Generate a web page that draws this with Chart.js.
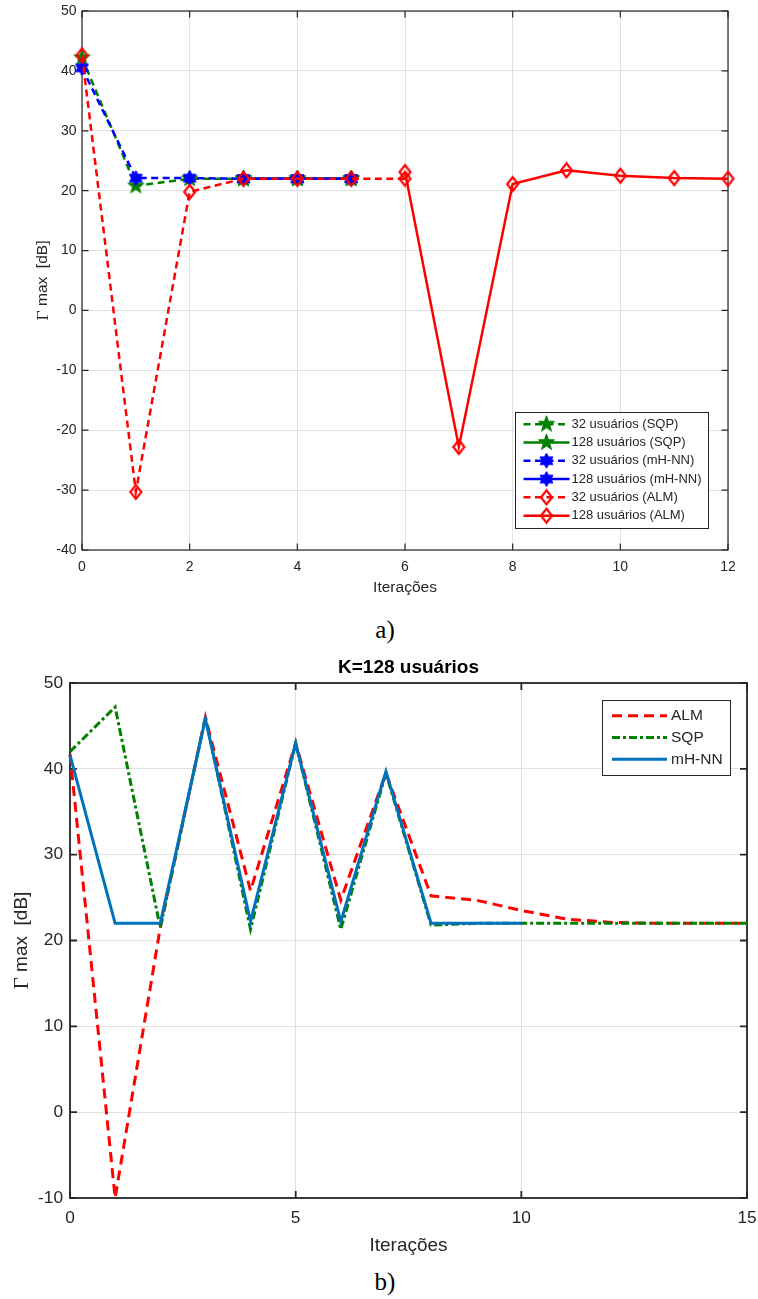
<!DOCTYPE html>
<html>
<head>
<meta charset="utf-8">
<script src="https://cdn.jsdelivr.net/npm/chart.js@4.4.1/dist/chart.umd.min.js"></script>
<style>
  body { margin: 0; background: #fff; width: 758px; height: 1299px; position: relative; overflow: hidden; }
  .panel { position: absolute; left: 0; width: 758px; }
  .panel canvas { display: block; }
  .cap { position: absolute; left: 6px; width: 758px; text-align: center; font-family: "Liberation Serif", serif; font-size: 25px; line-height: 28px; color: #000; }
</style>
</head>
<body>
<div class="panel" style="top:0;height:600px"><canvas id="chartA" width="758" height="600"></canvas></div>
<div class="cap" style="top:616px">a)</div>
<div class="panel" style="top:640px;height:620px"><canvas id="chartB" width="758" height="620"></canvas></div>
<div class="cap" style="top:1268px">b)</div>

<script>
// ---- chart a): 32 and 128 users, three methods ----
const xTicksA = [0, 2, 4, 6, 8, 10, 12];
const yTicksA = [-40, -30, -20, -10, 0, 10, 20, 30, 40, 50];

const sqp32X = [0, 1, 2, 3, 4, 5];
const sqp32 = [42.2, 20.8, 22, 22, 22, 22];
const sqp128X = [3, 4, 5];
const sqp128 = [22, 22, 22];
const nn32X = [0, 1, 2, 3, 4, 5];
const nn32 = [40.5, 22.1, 22.1, 22, 22, 22];
const nn128X = [3, 4, 5];
const nn128 = [22, 22, 22];
const alm32X = [0, 1, 2, 3, 4, 5, 6];
const alm32 = [42.6, -30.3, 19.8, 22, 22, 22, 22];
const alm128X = [6, 7, 8, 9, 10, 11, 12];
const alm128 = [23.1, -22.8, 21.1, 23.4, 22.5, 22.1, 22];

// ---- chart b): K=128 users ----
const xTicksB = [0, 5, 10, 15];
const yTicksB = [-10, 0, 10, 20, 30, 40, 50];

const iterB = [0, 1, 2, 3, 4, 5, 6, 7, 8, 9, 10, 11, 12, 13, 14, 15];
const almB = [41.7, -10, 21.5, 46, 25.8, 43, 24.7, 39.5, 25.2, 24.7, 23.5, 22.5, 22.1, 22, 22, 22];
const sqpB = [42, 47.2, 21.5, 46, 21.3, 43, 21.3, 39.5, 21.8, 22, 22, 22, 22, 22, 22, 22];
const nnBX = [0, 1, 2, 3, 4, 5, 6, 7, 8, 9, 10];
const nnB = [41.6, 22, 22, 45.8, 22.2, 43, 22.2, 39.7, 22, 22, 22];

const AXIS = '#262626';
const GRID = '#e1e1e1';

// turn two arrays into {x, y} points
function pts(xs, ys) {
  return xs.map((x, i) => ({ x: x, y: ys[i] }));
}

// filled star marker (pentagram / hexagram)
function starMarker(n, outer, inner, color) {
  const size = Math.ceil(outer * 2) + 2;
  const c = document.createElement('canvas');
  c.width = c.height = size;
  const g = c.getContext('2d');
  g.translate(size / 2, size / 2);
  g.beginPath();
  for (let i = 0; i < n * 2; i++) {
    const r = i % 2 ? inner : outer;
    const a = -Math.PI / 2 + i * Math.PI / n;
    g.lineTo(r * Math.cos(a), r * Math.sin(a));
  }
  g.closePath();
  g.fillStyle = color;
  g.fill();
  g.strokeStyle = color;
  g.lineWidth = 1;
  g.stroke();
  return c;
}

// open diamond marker
function diamondMarker(w, h, color) {
  const c = document.createElement('canvas');
  c.width = w + 4;
  c.height = h + 4;
  const g = c.getContext('2d');
  const cx = c.width / 2, cy = c.height / 2;
  g.beginPath();
  g.moveTo(cx, cy - h / 2);
  g.lineTo(cx + w / 2, cy);
  g.lineTo(cx, cy + h / 2);
  g.lineTo(cx - w / 2, cy);
  g.closePath();
  g.strokeStyle = color;
  g.lineWidth = 2.2;
  g.stroke();
  return c;
}

const greenStar = starMarker(5, 8.5, 3.4, '#008000');
const blueStar = starMarker(6, 7.5, 4.3, '#0000ff');
const redDiamond = diamondMarker(11, 14, '#ff0000');

// axes box with inward ticks on all four sides
const frame = {
  id: 'frame',
  beforeDatasetsDraw(chart, args, opts) {
    const ctx = chart.ctx, a = chart.chartArea;
    const x = chart.scales.x, y = chart.scales.y;
    ctx.save();
    ctx.strokeStyle = AXIS;
    ctx.lineWidth = opts.width;
    ctx.strokeRect(a.left, a.top, a.right - a.left, a.bottom - a.top);
    ctx.beginPath();
    x.ticks.forEach(t => {
      const px = x.getPixelForValue(t.value);
      ctx.moveTo(px, a.bottom); ctx.lineTo(px, a.bottom - opts.len);
      ctx.moveTo(px, a.top); ctx.lineTo(px, a.top + opts.len);
    });
    y.ticks.forEach(t => {
      const py = y.getPixelForValue(t.value);
      ctx.moveTo(a.left, py); ctx.lineTo(a.left + opts.len, py);
      ctx.moveTo(a.right, py); ctx.lineTo(a.right - opts.len, py);
    });
    ctx.stroke();
    ctx.restore();
  }
};

// axis titles, y title with a serif Gamma, optional chart title
const titles = {
  id: 'titles',
  afterDraw(chart, args, opts) {
    const ctx = chart.ctx, a = chart.chartArea;
    ctx.save();
    ctx.fillStyle = AXIS;
    ctx.textBaseline = 'middle';
    ctx.textAlign = 'center';
    ctx.font = opts.size + 'px "Liberation Sans", Arial, sans-serif';
    ctx.fillText('Iterações', (a.left + a.right) / 2, a.bottom + opts.xOffset);

    // y title: "Γ max  [dB]"
    const serif = (opts.size + 2) + 'px "Liberation Serif", serif';
    const sans = opts.size + 'px "Liberation Sans", Arial, sans-serif';
    ctx.font = serif;
    const wg = ctx.measureText('Γ').width;
    ctx.font = sans;
    const rest = ' max  [dB]';
    const wr = ctx.measureText(rest).width;
    ctx.translate(opts.yX, (a.top + a.bottom) / 2);
    ctx.rotate(-Math.PI / 2);
    ctx.textAlign = 'left';
    const start = -(wg + wr) / 2;
    ctx.font = serif;
    ctx.fillText('Γ', start, 0);
    ctx.font = sans;
    ctx.fillText(rest, start + wg, 0);
    ctx.setTransform(1, 0, 0, 1, 0, 0);

    if (opts.title) {
      ctx.fillStyle = '#000';
      ctx.textAlign = 'center';
      ctx.font = 'bold ' + opts.titleSize + 'px "Liberation Sans", Arial, sans-serif';
      ctx.fillText(opts.title, (a.left + a.right) / 2, a.top - opts.titleOffset);
    }
    ctx.restore();
  }
};

// legend drawn in a box inside the axes, from the datasets themselves
const boxLegend = {
  id: 'boxLegend',
  afterDraw(chart, args, opts) {
    const ctx = chart.ctx, a = chart.chartArea;
    const items = chart.data.datasets;
    ctx.save();
    ctx.font = opts.size + 'px "Liberation Sans", Arial, sans-serif';
    const maxW = Math.max(...items.map(d => ctx.measureText(d.label).width));
    const w = Math.round(opts.padLeft + opts.lineLen + opts.gap + maxW + opts.padRight);
    const h = Math.round(opts.padTop * 2 + opts.rowH * items.length);
    const left = Math.round(a.right - opts.right - w);
    const top = Math.round(opts.top != null ? a.top + opts.top : a.bottom - opts.bottom - h);
    ctx.fillStyle = '#fff';
    ctx.fillRect(left, top, w, h);
    ctx.strokeStyle = AXIS;
    ctx.lineWidth = 1;
    ctx.strokeRect(left + 0.5, top + 0.5, w, h);
    items.forEach((d, i) => {
      const cy = top + opts.padTop + opts.rowH * (i + 0.5);
      const x0 = left + opts.padLeft, x1 = x0 + opts.lineLen;
      ctx.strokeStyle = d.borderColor;
      ctx.lineWidth = d.borderWidth;
      ctx.setLineDash(d.borderDash || []);
      ctx.beginPath();
      ctx.moveTo(x0, cy);
      ctx.lineTo(x1, cy);
      ctx.stroke();
      ctx.setLineDash([]);
      const m = d.pointStyle;
      if (m && typeof m === 'object' && d.pointRadius > 0) {
        ctx.drawImage(m, (x0 + x1) / 2 - m.width / 2, cy - m.height / 2);
      }
      ctx.fillStyle = AXIS;
      ctx.textAlign = 'left';
      ctx.textBaseline = 'middle';
      ctx.fillText(d.label, x1 + opts.gap, cy);
    });
    ctx.restore();
  }
};

function lineSet(label, xs, ys, color, width, dash, marker, order) {
  return {
    label: label,
    data: pts(xs, ys),
    borderColor: color,
    backgroundColor: color,
    borderWidth: width,
    borderDash: dash,
    pointStyle: marker || 'circle',
    pointRadius: marker ? 5 : 0,
    pointHoverRadius: marker ? 5 : 0,
    tension: 0,
    fill: false,
    clip: false,
    order: order
  };
}

function axes(xMin, xMax, xTicks, yMin, yMax, yTicks, fontSize, yWidth, xHeight, xPad, yPad) {
  const tickFont = { family: '"Liberation Sans", Arial, sans-serif', size: fontSize };
  return {
    x: {
      type: 'linear', min: xMin, max: xMax,
      afterBuildTicks: s => { s.ticks = xTicks.map(v => ({ value: v })); },
      // fixed height, and no extra side padding for the edge labels
      afterFit: s => { s.height = xHeight; s.paddingLeft = 0; s.paddingRight = 0; },
      ticks: { color: AXIS, font: tickFont, padding: xPad, maxRotation: 0 },
      grid: { color: GRID, drawTicks: false },
      border: { display: false }
    },
    y: {
      type: 'linear', min: yMin, max: yMax,
      afterBuildTicks: s => { s.ticks = yTicks.map(v => ({ value: v })); },
      afterFit: s => { s.width = yWidth; s.paddingTop = 0; s.paddingBottom = 0; },
      ticks: { color: AXIS, font: tickFont, padding: yPad },
      grid: { color: GRID, drawTicks: false },
      border: { display: false }
    }
  };
}

// chart a)
new Chart(document.getElementById('chartA'), {
  type: 'line',
  data: {
    datasets: [
      lineSet('32 usuários (SQP)', sqp32X, sqp32, '#008000', 2.5, [7, 4.5], greenStar, 5),
      lineSet('128 usuários (SQP)', sqp128X, sqp128, '#008000', 2.5, [], greenStar, 4),
      lineSet('32 usuários (mH-NN)', nn32X, nn32, '#0000ff', 2.5, [7, 4.5], blueStar, 3),
      lineSet('128 usuários (mH-NN)', nn128X, nn128, '#0000ff', 2.5, [], blueStar, 2),
      lineSet('32 usuários (ALM)', alm32X, alm32, '#ff0000', 2.5, [7, 4.5], redDiamond, 1),
      lineSet('128 usuários (ALM)', alm128X, alm128, '#ff0000', 2.5, [], redDiamond, 0)
    ]
  },
  options: {
    responsive: false,
    animation: false,
    devicePixelRatio: 1,
    layout: { padding: { top: 11, right: 30, left: 0, bottom: 0 } },
    scales: axes(0, 12, xTicksA, -40, 50, yTicksA, 14, 82, 50, 8.5, 5.5),
    plugins: {
      legend: { display: false },
      tooltip: { enabled: false },
      frame: { width: 1.2, len: 6.5 },
      titles: { size: 15.5, xOffset: 38, yX: 43 },
      boxLegend: { size: 13, rowH: 18.3, padTop: 3, padLeft: 8.5, lineLen: 46, gap: 2, padRight: 6, right: 20, bottom: 22 }
    }
  },
  plugins: [frame, titles, boxLegend]
});

// chart b)
new Chart(document.getElementById('chartB'), {
  type: 'line',
  data: {
    datasets: [
      lineSet('ALM', iterB, almB, '#ff0000', 3, [10, 6], null, 2),
      lineSet('SQP', iterB, sqpB, '#008000', 3, [8, 3, 3, 3], null, 1),
      lineSet('mH-NN', nnBX, nnB, '#0072bd', 3, [], null, 0)
    ]
  },
  options: {
    responsive: false,
    animation: false,
    devicePixelRatio: 1,
    layout: { padding: { top: 43, right: 11, left: 0, bottom: 0 } },
    scales: axes(0, 15, xTicksB, -10, 50, yTicksB, 17.3, 70, 62, 10, 7),
    plugins: {
      legend: { display: false },
      tooltip: { enabled: false },
      frame: { width: 1.8, len: 7 },
      titles: { size: 19, xOffset: 48, yX: 22, title: 'K=128 usuários', titleSize: 19, titleOffset: 15 },
      boxLegend: { size: 15.5, rowH: 21.7, padTop: 5, padLeft: 10, lineLen: 55, gap: 4, padRight: 7, right: 17, top: 17 }
    }
  },
  plugins: [frame, titles, boxLegend]
});
</script>
</body>
</html>
